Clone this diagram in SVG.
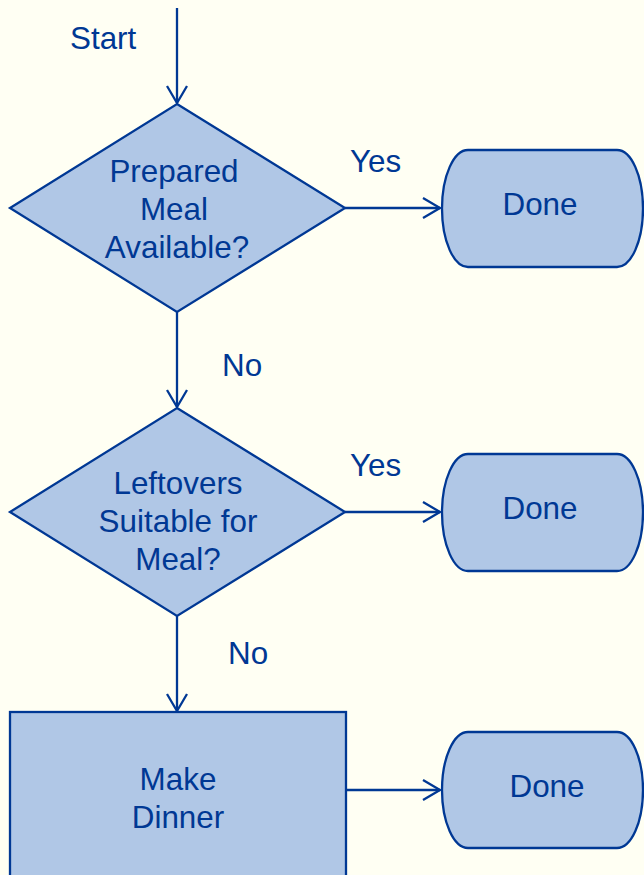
<svg xmlns="http://www.w3.org/2000/svg" width="644" height="875" viewBox="0 0 644 875">
<style>
.shape{fill:#b0c7e6;stroke:#003894;stroke-width:2.3}
.edge{fill:none;stroke:#003894;stroke-width:2.3}
text{font-family:"Liberation Sans",Arial,sans-serif;font-size:31.4px;fill:#003894}
.c{text-anchor:middle}
</style>
<defs>
<marker id="arr" markerUnits="userSpaceOnUse" markerWidth="24" markerHeight="24" refX="19" refY="11" orient="auto">
<path d="M2,1 L19,11 L2,21" fill="none" stroke="#003894" stroke-width="2.3"/>
</marker>
</defs>
<rect width="644" height="875" fill="#fffff3"/>
<g id="connectors">
<path class="edge" d="M177,8 V103" marker-end="url(#arr)"/>
<path class="edge" d="M345,208 H440" marker-end="url(#arr)"/>
<path class="edge" d="M177,312 V407" marker-end="url(#arr)"/>
<path class="edge" d="M345,512 H440" marker-end="url(#arr)"/>
<path class="edge" d="M177,616 V711" marker-end="url(#arr)"/>
<path class="edge" d="M346,790 H440" marker-end="url(#arr)"/>
<text x="70" y="49">Start</text>
<text x="350" y="172">Yes</text>
<text x="222" y="376">No</text>
<text x="350" y="476">Yes</text>
<text x="228" y="664">No</text>
</g>
<g id="decision1">
<polygon class="shape" points="177,104 345,208 177,312 10,208"/>
<text class="c" x="174" y="182">Prepared</text>
<text class="c" x="174" y="220">Meal</text>
<text class="c" x="177" y="258">Available?</text>
</g>
<g id="done1">
<path class="shape" d="M468,150 H617 A26,58.5 0 0 1 617,267 H468 A26,58.5 0 0 1 468,150 Z"/>
<text class="c" x="540" y="215">Done</text>
</g>
<g id="decision2">
<polygon class="shape" points="177,408 345,512 177,616 10,512"/>
<text class="c" x="178" y="494">Leftovers</text>
<text class="c" x="178" y="532">Suitable for</text>
<text class="c" x="178" y="570">Meal?</text>
</g>
<g id="done2">
<path class="shape" d="M468,454 H617 A26,58.5 0 0 1 617,571 H468 A26,58.5 0 0 1 468,454 Z"/>
<text class="c" x="540" y="519">Done</text>
</g>
<g id="make">
<rect class="shape" x="10" y="712" width="336" height="175"/>
<text class="c" x="178" y="790">Make</text>
<text class="c" x="178" y="828">Dinner</text>
</g>
<g id="done3">
<path class="shape" d="M468,732 H617 A26,58 0 0 1 617,848 H468 A26,58 0 0 1 468,732 Z"/>
<text class="c" x="547" y="797">Done</text>
</g>
</svg>
